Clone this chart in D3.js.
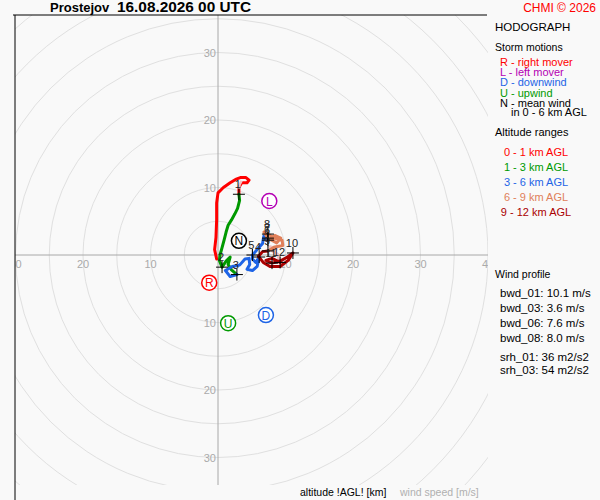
<!DOCTYPE html>
<html lang="en">
<head>
<meta charset="UTF-8">
<title>Hodograph</title>
<style>
  body { margin: 0; background: #f9f9f9; }
  text { font-family: "Liberation Sans", Arial, sans-serif; }
</style>
<script src="https://d3js.org/d3.v7.min.js"></script>
</head>
<body>
<svg width="600" height="500"></svg>
<script>
// hodograph trace per altitude range, u/v in m/s
const layerNames = ["0 - 1 km AGL", "1 - 3 km AGL", "3 - 6 km AGL", "6 - 9 km AGL", "9 - 12 km AGL"];
const layerColors = ["#ff0000", "#009900", "#1e64e6", "#e0805a", "#aa0000"];
const layerU = [
  [-0.2, -0.5, -0.3, -0.2, -0.2, 0.0, 0.8, 1.8, 2.6, 3.4, 4.1, 4.6, 4.3, 3.5, 3.1, 3.1],
  [3.1, 3.2, 2.9, 2.5, 2.0, 1.5, 1.2, 0.9, 0.6, 0.3, 0.2, 0.6, 1.2, 1.8, 1.5, 2.0, 2.8],
  [2.8, 1.8, 1.1, 2.1, 3.2, 4.0, 4.6, 4.7, 4.3, 5.1, 5.8, 6.1, 5.6, 5.1, 5.1, 5.8, 6.6, 6.8, 7.4],
  [7.4, 8.4, 9.3, 8.7, 7.4, 6.8, 7.4, 8.3, 9.5, 9.6, 8.4, 7.4],
  [7.4, 6.6, 6.0, 6.7, 7.7, 9.2, 10.4, 11.1, 10.3, 9.2, 8.0, 7.1, 8.0, 9.2]
];
const layerV = [
  [-0.6, 0.8, 2.6, 5.2, 7.7, 9.2, 10.0, 10.7, 11.2, 11.5, 11.5, 11.1, 10.7, 10.7, 10.0, 9.0],
  [9.0, 8.1, 6.9, 6.1, 5.2, 4.4, 3.4, 2.2, 1.1, 0.0, -0.8, -1.8, -0.9, -0.3, -1.4, -2.2, -2.9],
  [-2.9, -3.2, -2.3, -1.7, -1.5, -0.6, -0.5, -1.4, -2.1, -2.3, -1.7, -0.3, -1.1, -0.6, 0.0, 0.8, 1.7, 2.8, 2.2],
  [2.2, 2.9, 2.5, 1.8, 2.5, 3.4, 3.1, 2.5, 2.2, 1.4, 1.2, 0.6],
  [0.6, 0.5, -0.2, -1.1, -1.7, -1.7, -0.8, 0.3, -0.3, -0.9, -1.2, -0.8, -0.5, -1.1]
];
// above 12 km
const topU = [9.2, 8.9, 8.1, 7.7, 8.6];
const topV = [-1.1, 0.0, 0.6, 1.2, 0.9];

// km marks
const kmLabels = [1, 2, 3, 4, 5, 6, 7, 8, 9, 10, 11, 12];
const kmU = [3.1, 0.6, 2.8, 6.1, 5.1, 7.4, 7.4, 7.4, 7.4, 11.1, 8.0, 9.2];
const kmV = [9.0, -1.8, -2.9, -0.3, 0.0, 2.2, 2.5, 3.1, 0.6, 0.3, -1.2, -1.1];

// storm motions
const stormLetters = ["R", "L", "D", "U", "N"];
const stormU = [-1.3, 7.6, 7.1, 1.5, 3.1];
const stormV = [-4.1, 8.0, -8.9, -10.1, 2.1];
const stormColors = ["#ff0000", "#b400b4", "#1e64e6", "#009900", "#000000"];
const stormTexts = ["R - right mover", "L - left mover", "D - downwind", "U - upwind", "N - mean wind"];

const ringSpeeds = [5, 10, 15, 20, 25, 30, 35, 40, 45, 50];
const tickSpeeds = [10, 20, 30, 40];

const windLabels = ["bwd_01: 10.1 m/s", "bwd_03: 3.6 m/s", "bwd_06: 7.6 m/s", "bwd_08: 8.0 m/s"];
const srhLabels = ["srh_01: 36 m2/s2", "srh_03: 54 m2/s2"];

const svg = d3.select("svg");
const x = d3.scaleLinear().domain([0, 10]).range([218, 285.5]);
const y = d3.scaleLinear().domain([0, 10]).range([255, 187.5]);
const px = d => x(d) - x(0);

// background
svg.append("rect").attr("width", 600).attr("height", 500).attr("fill", "#f9f9f9");

svg.append("clipPath").attr("id", "plot")
  .append("rect").attr("x", 15).attr("y", 15).attr("width", 473).attr("height", 470);

const plot = svg.append("g").attr("clip-path", "url(#plot)");

// rings
plot.selectAll(".ring").data(ringSpeeds).enter().append("circle")
  .attr("cx", x(0)).attr("cy", y(0)).attr("r", d => px(d))
  .attr("fill", "none").attr("stroke", "#e0e0e0").attr("stroke-width", 1);

// axes
plot.append("line").attr("x1", 15).attr("x2", 488).attr("y1", y(0)).attr("y2", y(0))
  .attr("stroke", "#a8a8a8");
plot.append("line").attr("x1", x(0)).attr("x2", x(0)).attr("y1", 15).attr("y2", 485)
  .attr("stroke", "#a8a8a8");

// tick labels
const ticks = tickSpeeds.flatMap(s => [s, -s]);
plot.selectAll(".xt").data(ticks).enter().append("text")
  .attr("x", d => x(d)).attr("y", y(0) + 13)
  .attr("text-anchor", "middle").attr("font-size", 11).attr("fill", "#aaaaaa")
  .text(d => Math.abs(d));
plot.selectAll(".yt").data(ticks).enter().append("text")
  .attr("x", x(0) - 2).attr("y", d => y(d) + 4)
  .attr("text-anchor", "end").attr("font-size", 11).attr("fill", "#aaaaaa")
  .text(d => Math.abs(d));

// frame (left and top)
svg.append("line").attr("x1", 15).attr("x2", 15).attr("y1", 15).attr("y2", 500).attr("stroke", "#000");
svg.append("line").attr("x1", 13).attr("x2", 487).attr("y1", 15).attr("y2", 15).attr("stroke", "#000");

// hodograph
const line = d3.line().x(d => x(d[0])).y(d => y(d[1])).curve(d3.curveLinear);
plot.append("path")
  .attr("d", line(topU.map((u, i) => [u, topV[i]])))
  .attr("fill", "none").attr("stroke", "#f2c4c4").attr("stroke-width", 3.5)
  .attr("stroke-linejoin", "round").attr("stroke-linecap", "round");
layerU.forEach((us, k) => {
  const pts = us.map((u, i) => [u, layerV[k][i]]);
  plot.append("path")
    .attr("d", line(pts))
    .attr("fill", "none").attr("stroke", layerColors[k]).attr("stroke-width", 3)
    .attr("stroke-linejoin", "round").attr("stroke-linecap", "round");
});
// pink tip near 1 km
plot.append("path")
  .attr("d", line([[3.5, 11.0], [3.2, 10.4], [3.1, 9.8]]))
  .attr("fill", "none").attr("stroke", "#f2c4c4").attr("stroke-width", 2.5);

// km crosses
const marks = plot.selectAll(".km").data(kmLabels).enter().append("g")
  .attr("transform", (d, i) => `translate(${x(kmU[i])},${y(kmV[i])})`);
marks.append("line").attr("x1", -6).attr("x2", 6).attr("stroke", "#000");
marks.append("line").attr("y1", -6).attr("y2", 6).attr("stroke", "#000");
marks.append("text").attr("x", -1).attr("y", -6)
  .attr("text-anchor", "middle").attr("font-size", 11).attr("fill", "#222")
  .text(d => d);

// storm motion markers
const sm = plot.selectAll(".sm").data(stormLetters).enter().append("g")
  .attr("transform", (d, i) => `translate(${x(stormU[i])},${y(stormV[i])})`);
sm.append("circle").attr("r", 7.5).attr("fill", "#fff")
  .attr("stroke", (d, i) => stormColors[i]).attr("stroke-width", 1.5);
sm.append("text").attr("y", 4.5).attr("text-anchor", "middle")
  .attr("font-size", 12).attr("fill", (d, i) => stormColors[i])
  .text(d => d);

// title
svg.append("text").attr("x", 50).attr("y", 12).attr("font-size", 13).attr("font-weight", "bold")
  .text("Prostejov");
svg.append("text").attr("x", 117).attr("y", 12).attr("font-size", 14).attr("font-weight", "bold")
  .attr("textLength", 134).attr("lengthAdjust", "spacingAndGlyphs")
  .text("16.08.2026 00 UTC");
svg.append("text").attr("x", 596).attr("y", 12).attr("text-anchor", "end")
  .attr("font-size", 12).attr("fill", "#ff0000").text("CHMI © 2026");

// legend
const lg = svg.append("g");
lg.append("text").attr("x", 495).attr("y", 31).attr("font-size", 11.5).text("HODOGRAPH");
lg.append("text").attr("x", 495).attr("y", 51).attr("font-size", 10.5).text("Storm motions");
lg.selectAll(".st").data(stormTexts).enter().append("text")
  .attr("x", 500).attr("y", (d, i) => 66 + i * 10.2)
  .attr("font-size", 11).attr("fill", (d, i) => stormColors[i])
  .text(d => d);
lg.append("text").attr("x", 511).attr("y", 116).attr("font-size", 11).text("in 0 - 6 km AGL");
lg.append("text").attr("x", 495).attr("y", 136).attr("font-size", 11).text("Altitude ranges");
lg.selectAll(".ar").data(layerNames).enter().append("text")
  .attr("x", 536).attr("y", (d, i) => 155.5 + i * 15)
  .attr("text-anchor", "middle")
  .attr("font-size", 11).attr("fill", (d, i) => layerColors[i])
  .text(d => d);

lg.append("text").attr("x", 495).attr("y", 278).attr("font-size", 10.5).text("Wind profile");
lg.selectAll(".wp").data(windLabels).enter().append("text")
  .attr("x", 500).attr("y", (d, i) => 296.5 + i * 15)
  .attr("font-size", 11.5).text(d => d);
lg.selectAll(".srh").data(srhLabels).enter().append("text")
  .attr("x", 500).attr("y", (d, i) => 360.5 + i * 13)
  .attr("font-size", 11.5).text(d => d);

// bottom labels
svg.append("text").attr("x", 300).attr("y", 496).attr("font-size", 10.5).text("altitude !AGL! [km]");
svg.append("text").attr("x", 400).attr("y", 496).attr("font-size", 10.5).attr("fill", "#b0b0b0").text("wind speed [m/s]");
</script>
</body>
</html>
